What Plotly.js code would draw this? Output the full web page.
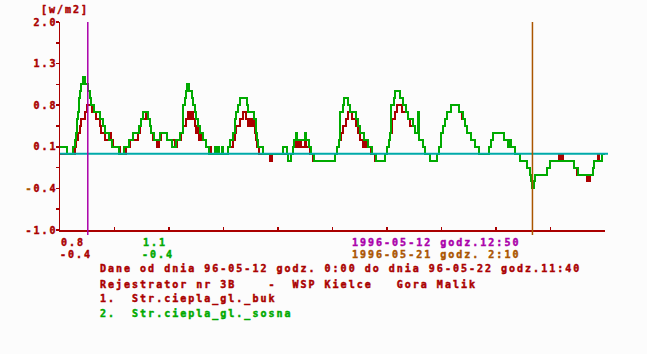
<!DOCTYPE html>
<html>
<head>
<meta charset="utf-8">
<script src="https://cdn.plot.ly/plotly-3.0.1.min.js"></script>
<style>
html,body{margin:0;padding:0;background:#fcfcfc;}
#chart{width:647px;height:354px;}
#chart svg text{letter-spacing:2px;}
#chart .scatterlayer path.js-line{shape-rendering:crispEdges;}
</style>
</head>
<body>
<div id="chart"></div>
<script>
// ---- data (hours since 1996-05-12 0:00, step values) ----
const bukHours = [0.0,6.9,7.4,8.3,9.2,9.7,11.5,12.5,14.8,16.6,18.5,18.9,20.8,23.1,23.6,24.5,27.7,
30.5,32.3,36.0,36.9,37.4,39.7,40.6,41.6,42.0,42.9,44.8,45.7,46.6,49.4,
53.1,54.0,55.9,56.8,58.2,59.1,59.6,60.5,61.4,62.3,62.8,63.7,64.2,65.1,66.0,67.4,69.7,
77.6,79.9,80.8,81.3,83.1,84.5,85.9,86.8,87.7,88.2,88.7,89.6,90.0,90.5,91.0,91.9,
97.0,97.9,
105.3,106.7,107.6,109.0,109.4,110.4,111.3,113.1,113.6,115.4,116.8,
127.0,127.9,128.8,129.8,130.7,132.1,133.0,134.8,136.7,137.6,138.5,139.9,140.4,141.3,143.6,145.5,
150.1,151.0,151.9,152.4,153.3,154.7,155.6,157.9,160.7,161.6,163.9,165.3,165.8,167.6,168.6,170.9,
174.1,175.0,175.9,176.9,177.8,178.7,180.6,184.3,185.6,187.0,188.0,189.8,191.6,193.5,
198.1,199.0,200.0,205.0,208.3,210.1,212.4,215.7,217.0,217.5,218.0,218.9,219.4,224.9,226.3,
230.4,230.9,231.8,232.3,237.4,238.7,243.4,243.8,244.3,244.7,246.1,246.6,248.4,248.9,250.3,251.7];
const bukValues = [0.1,0.2,0.3,0.4,0.5,0.6,0.7,0.8,0.7,0.6,0.5,0.4,0.3,0.4,0.3,0.2,0.1,
0.2,0.3,0.4,0.5,0.6,0.7,0.6,0.5,0.4,0.3,0.2,0.3,0.4,0.3,
0.2,0.3,0.4,0.5,0.6,0.7,0.6,0.7,0.6,0.5,0.4,0.5,0.3,0.4,0.3,0.2,0.1,
0.2,0.3,0.4,0.5,0.6,0.7,0.6,0.5,0.6,0.5,0.6,0.5,0.4,0.3,0.2,0.1,
0.0,0.1,
0.0,0.1,0.2,0.3,0.2,0.3,0.2,0.3,0.2,0.1,0.0,
0.1,0.2,0.3,0.4,0.5,0.6,0.7,0.6,0.5,0.4,0.3,0.2,0.3,0.2,0.1,0.0,
0.1,0.2,0.3,0.4,0.6,0.7,0.8,0.7,0.6,0.5,0.4,0.5,0.3,0.2,0.1,0.0,
0.1,0.2,0.4,0.5,0.6,0.7,0.8,0.7,0.6,0.5,0.4,0.3,0.2,0.1,
0.2,0.3,0.4,0.3,0.2,0.1,0.0,-0.1,-0.2,-0.3,-0.4,-0.3,-0.2,-0.1,0.0,
0.1,0.0,0.1,0.0,-0.1,-0.2,-0.3,-0.2,-0.3,-0.2,-0.1,0.0,0.1,0.0,0.1,0.1];

const sosnaHours = [0.0,3.2,6.0,6.9,7.4,7.9,8.3,8.8,9.2,9.7,10.6,11.5,13.0,13.8,14.3,15.7,18.5,19.9,20.8,22.6,24.0,27.2,
29.6,31.9,33.7,36.5,37.4,38.3,40.6,41.6,42.0,43.4,46.2,49.4,51.7,53.6,55.4,56.8,57.7,58.2,58.6,59.6,61.0,61.4,62.3,62.8,63.7,64.7,66.0,67.4,68.8,
71.6,72.0,73.0,73.4,74.8,75.3,
77.6,78.5,79.9,80.8,81.3,82.2,83.1,86.4,86.8,89.6,90.5,91.0,91.4,93.7,
103.0,104.8,105.3,106.7,107.6,108.1,109.0,109.4,113.1,113.6,115.0,115.9,117.3,
127.0,127.9,128.8,129.3,130.7,131.2,133.0,133.9,136.7,137.6,138.5,140.4,142.2,144.1,145.9,
150.1,151.0,151.9,152.4,152.9,154.2,154.7,157.0,158.4,159.8,160.7,163.0,163.9,165.3,165.8,167.6,168.6,170.9,
174.1,175.0,175.9,176.9,177.8,178.7,180.6,184.3,186.1,187.0,188.0,189.8,191.6,193.5,
198.1,199.0,200.0,205.0,206.9,207.3,208.3,210.1,212.4,215.7,217.0,217.5,218.0,218.9,219.4,224.9,226.3,237.4,239.2,246.1,246.6,250.3,251.7];
const sosnaValues = [0.2,0.1,0.2,0.3,0.4,0.6,0.7,0.9,1.0,1.1,1.2,1.1,1.0,0.9,0.8,0.7,0.6,0.5,0.4,0.3,0.2,0.1,
0.2,0.3,0.4,0.5,0.6,0.7,0.6,0.5,0.4,0.3,0.4,0.3,0.2,0.3,0.4,0.8,0.9,1.0,1.1,1.0,0.9,0.8,0.7,0.6,0.5,0.4,0.3,0.2,0.1,
0.2,0.1,0.2,0.1,0.2,0.1,
0.2,0.3,0.4,0.6,0.7,0.8,0.9,0.8,0.7,0.6,0.4,0.3,0.2,0.1,
0.2,0.1,0.0,0.1,0.2,0.3,0.4,0.3,0.4,0.3,0.2,0.1,0.0,
0.1,0.2,0.3,0.7,0.8,0.9,0.8,0.7,0.6,0.5,0.4,0.3,0.2,0.1,0.0,
0.1,0.2,0.3,0.4,0.8,0.9,1.0,0.9,0.8,0.7,0.6,0.5,0.4,0.7,0.3,0.2,0.1,0.0,
0.1,0.2,0.4,0.5,0.6,0.7,0.8,0.7,0.6,0.5,0.4,0.3,0.2,0.1,
0.2,0.3,0.4,0.3,0.2,0.3,0.2,0.1,0.0,-0.1,-0.2,-0.3,-0.4,-0.3,-0.2,-0.1,0.0,-0.1,-0.2,-0.1,0.0,0.1,0.1];

const yTickVals = [2.0, 1.4, 0.8, 0.2, -0.4, -1.0];
const yTickText = ['2.0', '1.3', '0.8', '0.1', '<span style="color:#aa5500">-</span>0.4', '-1.0'];
const totalHours = 251.667;           // 96-05-12 0:00 .. 96-05-22 11:40
const referenceLevel = 0.1;
const cursorHours = [12.833, 218.167]; // 12:50 on 05-12, 2:10 on 05-21
const cursorDates = ['1996-05-12 godz.12:50', '1996-05-21 godz. 2:10'];
const cursorBuk = ['0.8', '-0.4'];
const cursorSosna = ['1.1', '-0.4'];
const seriesNames = ['1.  Str.ciepla_gl._buk', '2.  Str.ciepla_gl._sosna'];
const unitLabel = '[w/m2]';
const infoLines = ['Dane od dnia 96-05-12 godz. 0:00 do dnia 96-05-22 godz.11:40',
                   'Rejestrator nr 3B    -  WSP Kielce   Gora Malik'];

// ---- styling ----
const RED = '#aa0000', GREEN = '#00aa00', CYAN = '#00aaaa', MAG = '#aa00aa', BROWN = '#aa5500';
const BG = '#fcfcfc';
const FAM = '"DejaVu Sans Mono", "Liberation Mono", monospace';
const FS = 10;
const L = 60, R = 605, T = 22, B = 230;
const W = 647, H = 354;
const px = x => (x - L) / (R - L);
const py = y => (B - y) / (B - T);

function ann(text, x, y, color) {
  return {text: text, x: px(x), y: py(y), xref: 'paper', yref: 'paper',
    xanchor: 'left', yanchor: 'middle', align: 'left', showarrow: false, borderpad: 0,
    font: {family: FAM, size: FS, color: color, weight: 'bold'}};
}

const traces = [
  {x: bukHours, y: bukValues, type: 'scatter', mode: 'lines', line: {shape: 'hv', color: RED, width: 2}, hoverinfo: 'skip', name: seriesNames[0]},
  {x: sosnaHours, y: sosnaValues, type: 'scatter', mode: 'lines', line: {shape: 'hv', color: GREEN, width: 2}, hoverinfo: 'skip', name: seriesNames[1]}
];

const tickStep = totalHours / 10;
const layout = {
  width: W, height: H,
  margin: {l: L, r: W - R, t: T, b: H - B, pad: 0},
  paper_bgcolor: BG, plot_bgcolor: BG,
  showlegend: false,
  font: {family: FAM, size: FS, color: RED, weight: 'bold'},
  xaxis: {range: [0, totalHours], showgrid: false, zeroline: false, showline: true,
    linecolor: RED, linewidth: 1.5, ticks: 'inside', ticklen: 3, tickwidth: 1.5, tickcolor: RED,
    tickmode: 'linear', tick0: 0, dtick: tickStep, showticklabels: false, fixedrange: true},
  xaxis2: {overlaying: 'x', matches: 'x', side: 'bottom', range: [0, totalHours], showgrid: false, zeroline: false,
    showline: false, ticks: 'outside', ticklen: 3, tickwidth: 1.5, tickcolor: RED,
    tickmode: 'linear', tick0: 0, dtick: tickStep, showticklabels: false, fixedrange: true},
  yaxis: {range: [-1, 2], showgrid: false, zeroline: false, showline: true,
    linecolor: RED, linewidth: 1.5, ticks: 'outside', ticklen: 3, tickwidth: 1.5, tickcolor: RED,
    tickmode: 'array', tickvals: yTickVals, ticktext: yTickText, ticklabelstandoff: -4,
    tickfont: {family: FAM, size: FS, color: RED, weight: 'bold'},
    minor: {tickmode: 'linear', tick0: -1, dtick: 0.3, ticks: 'outside', ticklen: 3, tickwidth: 1.5, tickcolor: RED},
    fixedrange: true},
  yaxis2: {overlaying: 'y', matches: 'y', side: 'left', range: [-1, 2], showgrid: false, zeroline: false,
    showline: false, ticks: 'inside', ticklen: 3, tickwidth: 1.5, tickcolor: RED,
    tickmode: 'array', tickvals: [yTickVals[0]], showticklabels: false, fixedrange: true},
  shapes: [
    {type: 'line', xref: 'paper', yref: 'y', x0: 0, x1: px(608), y0: referenceLevel, y1: referenceLevel,
      line: {color: CYAN, width: 2}, layer: 'above'},
    {type: 'line', xref: 'x', yref: 'paper', x0: cursorHours[0], x1: cursorHours[0], y0: py(235), y1: 1,
      line: {color: MAG, width: 1.5}, layer: 'above'},
    {type: 'line', xref: 'x', yref: 'paper', x0: cursorHours[1], x1: cursorHours[1], y0: py(235), y1: 1,
      line: {color: BROWN, width: 1.5}, layer: 'above'}
  ],
  annotations: [
    ann(unitLabel, 40, 9, RED),
    ann(cursorBuk[0], 60, 242.5, RED),
    ann(cursorBuk[1], 59, 254.5, RED),
    ann(cursorSosna[0], 142, 242.5, GREEN),
    ann(cursorSosna[1], 141, 254.5, GREEN),
    ann(cursorDates[0], 351, 242.5, MAG),
    ann(cursorDates[1], 351, 254.5, BROWN),
    ann(infoLines[0], 99, 268.5, RED),
    ann(infoLines[1], 99, 284, RED),
    ann(seriesNames[0], 99, 299, RED),
    ann(seriesNames[1], 99, 313.5, GREEN)
  ]
};

Plotly.newPlot('chart', traces, layout, {displayModeBar: false, staticPlot: true}).then(function (gd) {
  // thicken glyphs to mimic the heavy bitmap font
  gd.querySelectorAll('text, tspan').forEach(function (el) {
    const f = el.style.fill;
    if (f) { el.style.stroke = f; el.style.strokeWidth = '0.45px'; }
  });
});
</script>
</body>
</html>
